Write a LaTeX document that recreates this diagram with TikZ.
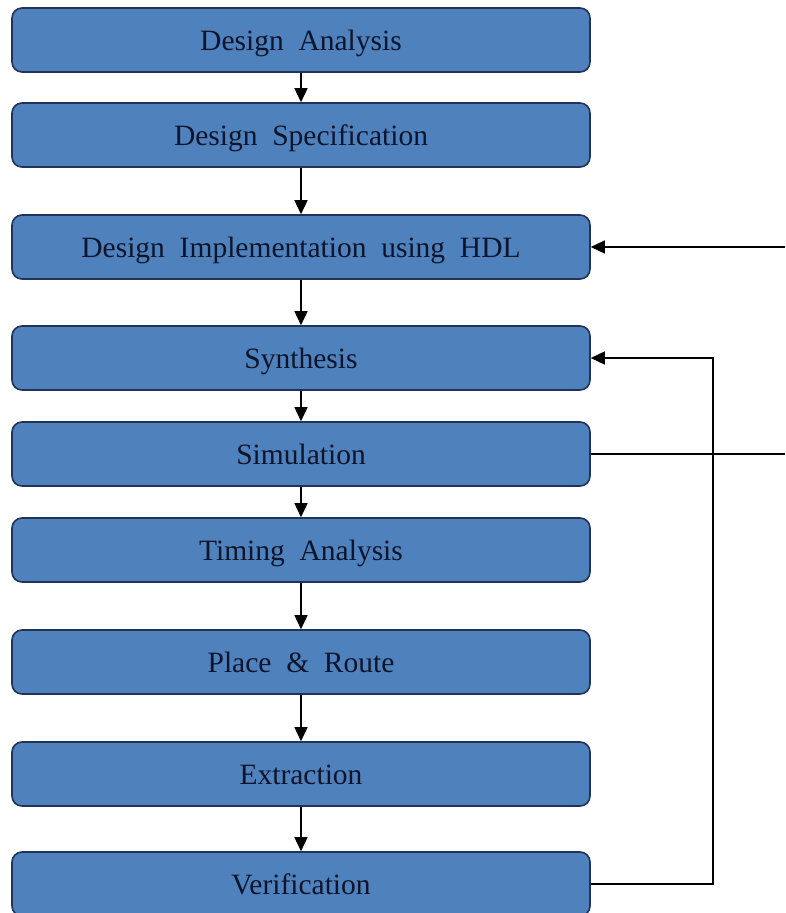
\documentclass[tikz,border=0pt]{standalone}
\usepackage{fontspec}
\setmainfont{Liberation Serif}
\usetikzlibrary{arrows.meta}
\definecolor{boxfill}{HTML}{4F81BD}
\definecolor{boxedge}{HTML}{1F3458}
\definecolor{boxtext}{HTML}{0C152B}
\newcommand\stagefont{\fontsize{29.5}{33}\selectfont\spaceskip 0.5em plus 0.1em\relax}
\tikzset{
  stage/.style={draw=boxedge, line width=1.6pt, fill=boxfill, rounded corners=10pt,
    minimum width=578pt, minimum height=64pt, inner sep=0pt, text=boxtext,
    text height=20pt, text depth=0pt, font=\stagefont},
  flow/.style={draw=black, line width=1.5pt, -{Triangle[length=14pt,width=13pt]}},
  wire/.style={draw=black, line width=1.5pt}
}
\begin{document}
\begin{tikzpicture}[x=1pt,y=-1pt]
\useasboundingbox (0,0) rectangle (785,913);
\clip (0,0) rectangle (785,913);
\node[stage] (ana) at (301,40) {Design Analysis};
\node[stage] (spec) at (301,135) {Design Specification};
\node[stage] (impl) at (301,247) {Design Implementation using HDL};
\node[stage] (syn) at (301,358) {Synthesis};
\node[stage] (sim) at (301,454) {Simulation};
\node[stage] (tim) at (301,550) {Timing Analysis};
\node[stage] (par) at (301,662) {Place \& Route};
\node[stage] (ext) at (301,774) {Extraction};
\node[stage] (ver) at (301,884) {Verification};
% main flow
\draw[flow] (ana) -- (spec);
\draw[flow] (spec) -- (impl);
\draw[flow] (impl) -- (syn);
\draw[flow] (syn) -- (sim);
\draw[flow] (sim) -- (tim);
\draw[flow] (tim) -- (par);
\draw[flow] (par) -- (ext);
\draw[flow] (ext) -- (ver);
% feedback paths
\coordinate (inHDL) at (785,247);
\coordinate (outSim) at (785,454);
\coordinate (loopX) at (713,0);
\draw[flow] (inHDL) -- (impl.east |- inHDL);
\draw[wire] (sim.east) -- (outSim);
\draw[flow] (ver.east) -- (ver.east -| loopX) -- (loopX |- syn.east) -- (syn.east);
\end{tikzpicture}
\end{document}
